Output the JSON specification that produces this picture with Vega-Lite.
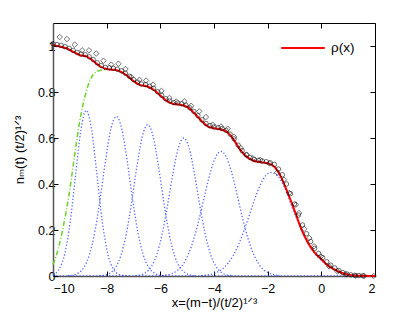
{
  "$schema": "https://vega.github.io/schema/vega-lite/v6.json",
  "width": 322,
  "height": 253,
  "autosize": {"type": "none"},
  "padding": {"left": 53, "top": 23, "right": 40, "bottom": 37},
  "background": "white",
  "config": {
    "view": {"stroke": null},
    "axis": {"domainColor": "#000", "tickColor": "#000", "labelFont": "Liberation Sans", "labelFontSize": 12.5, "labelColor": "#000", "titleFont": "Liberation Sans, DejaVu Sans", "titleFontSize": 13, "titleFontWeight": "normal", "titleColor": "#000", "grid": false, "tickSize": -5, "labelPadding": 3}
  },
  "datasets": {
    "rho": [
      {"x": -10, "y": 1.005}, {"x": -9.75, "y": 0.998}, {"x": -9.5, "y": 0.99}, {"x": -9.25, "y": 0.975}, {"x": -9.0, "y": 0.96}, {"x": -8.75, "y": 0.955}, {"x": -8.5, "y": 0.935}, {"x": -8.25, "y": 0.912}, {"x": -8.0, "y": 0.9}, {"x": -7.75, "y": 0.897}, {"x": -7.5, "y": 0.89}, {"x": -7.25, "y": 0.872}, {"x": -7.0, "y": 0.848}, {"x": -6.75, "y": 0.83}, {"x": -6.5, "y": 0.825}, {"x": -6.25, "y": 0.81}, {"x": -6.0, "y": 0.785}, {"x": -5.75, "y": 0.76}, {"x": -5.5, "y": 0.748}, {"x": -5.25, "y": 0.745}, {"x": -5.0, "y": 0.735}, {"x": -4.75, "y": 0.71}, {"x": -4.5, "y": 0.678}, {"x": -4.25, "y": 0.652}, {"x": -4.0, "y": 0.642}, {"x": -3.75, "y": 0.637}, {"x": -3.5, "y": 0.625}, {"x": -3.25, "y": 0.59}, {"x": -3.0, "y": 0.545}, {"x": -2.75, "y": 0.515}, {"x": -2.5, "y": 0.5}, {"x": -2.25, "y": 0.495}, {"x": -2.0, "y": 0.49}, {"x": -1.75, "y": 0.475}, {"x": -1.5, "y": 0.43}, {"x": -1.25, "y": 0.36}, {"x": -1.0, "y": 0.285}, {"x": -0.75, "y": 0.205}, {"x": -0.5, "y": 0.145}, {"x": -0.25, "y": 0.102}, {"x": 0, "y": 0.073}, {"x": 0.25, "y": 0.045}, {"x": 0.5, "y": 0.028}, {"x": 0.75, "y": 0.014}, {"x": 1.0, "y": 0.006}, {"x": 1.25, "y": 0.002}, {"x": 1.5, "y": 0.001}, {"x": 2.0, "y": 0}
    ],
    "circ": [
      {"x": -10.0, "y": 1.01}, {"x": -9.85, "y": 1.006}, {"x": -9.7, "y": 1.003}, {"x": -9.55, "y": 0.997}, {"x": -9.4, "y": 0.99}, {"x": -9.25, "y": 0.981}, {"x": -9.1, "y": 0.972}, {"x": -8.95, "y": 0.965}, {"x": -8.8, "y": 0.962}, {"x": -8.65, "y": 0.953}, {"x": -8.5, "y": 0.941}, {"x": -8.35, "y": 0.927}, {"x": -8.2, "y": 0.915}, {"x": -8.05, "y": 0.907}, {"x": -7.9, "y": 0.905}, {"x": -7.75, "y": 0.903}, {"x": -7.6, "y": 0.899}, {"x": -7.45, "y": 0.892}, {"x": -7.3, "y": 0.882}, {"x": -7.15, "y": 0.868}, {"x": -7.0, "y": 0.854}, {"x": -6.85, "y": 0.843}, {"x": -6.7, "y": 0.835}, {"x": -6.55, "y": 0.832}, {"x": -6.4, "y": 0.825}, {"x": -6.25, "y": 0.816}, {"x": -6.1, "y": 0.801}, {"x": -5.95, "y": 0.786}, {"x": -5.8, "y": 0.771}, {"x": -5.65, "y": 0.761}, {"x": -5.5, "y": 0.754}, {"x": -5.35, "y": 0.752}, {"x": -5.2, "y": 0.749}, {"x": -5.05, "y": 0.743}, {"x": -4.9, "y": 0.731}, {"x": -4.75, "y": 0.716}, {"x": -4.6, "y": 0.697}, {"x": -4.45, "y": 0.679}, {"x": -4.3, "y": 0.663}, {"x": -4.15, "y": 0.654}, {"x": -4.0, "y": 0.648}, {"x": -3.85, "y": 0.645}, {"x": -3.7, "y": 0.641}, {"x": -3.55, "y": 0.633}, {"x": -3.4, "y": 0.617}, {"x": -3.25, "y": 0.596}, {"x": -3.1, "y": 0.569}, {"x": -2.95, "y": 0.545}, {"x": -2.8, "y": 0.527}, {"x": -2.65, "y": 0.515}, {"x": -2.5, "y": 0.506}, {"x": -2.35, "y": 0.503}, {"x": -2.2, "y": 0.5}, {"x": -2.05, "y": 0.497}, {"x": -1.9, "y": 0.492}, {"x": -1.75, "y": 0.485}, {"x": -1.6, "y": 0.465}, {"x": -1.45, "y": 0.44}, {"x": -1.3, "y": 0.4}, {"x": -1.15, "y": 0.358}, {"x": -1.0, "y": 0.313}, {"x": -0.85, "y": 0.265}, {"x": -0.7, "y": 0.222}, {"x": -0.55, "y": 0.184}, {"x": -0.4, "y": 0.15}, {"x": -0.25, "y": 0.12}, {"x": -0.1, "y": 0.098}, {"x": 0.05, "y": 0.08}, {"x": 0.2, "y": 0.062}, {"x": 0.35, "y": 0.047}, {"x": 0.5, "y": 0.035}, {"x": 0.65, "y": 0.024}, {"x": 0.8, "y": 0.015}, {"x": 0.95, "y": 0.009}, {"x": 1.1, "y": 0.005}, {"x": 1.25, "y": 0.003}, {"x": 1.4, "y": 0.002}, {"x": 1.55, "y": 0.001}
    ],
    "diam": [
      {"x": -9.75, "y": 1.039}, {"x": -9.48, "y": 1.03}, {"x": -9.19, "y": 1.006}, {"x": -8.91, "y": 0.981}, {"x": -8.66, "y": 0.981}, {"x": -8.39, "y": 0.967}, {"x": -8.12, "y": 0.936}, {"x": -7.83, "y": 0.919}, {"x": -7.56, "y": 0.923}, {"x": -7.3, "y": 0.9}, {"x": -7.09, "y": 0.865}, {"x": -6.78, "y": 0.853}, {"x": -6.53, "y": 0.85}, {"x": -6.27, "y": 0.832}, {"x": -5.96, "y": 0.805}, {"x": -5.66, "y": 0.774}, {"x": -5.41, "y": 0.759}, {"x": -5.1, "y": 0.759}, {"x": -4.85, "y": 0.74}, {"x": -4.55, "y": 0.716}, {"x": -4.3, "y": 0.691}, {"x": -4.05, "y": 0.658}, {"x": -3.74, "y": 0.65}, {"x": -3.49, "y": 0.64}, {"x": -3.25, "y": 0.605}, {"x": -3.0, "y": 0.556}, {"x": -2.78, "y": 0.527}, {"x": -2.55, "y": 0.512}, {"x": -2.28, "y": 0.505}, {"x": -1.94, "y": 0.49}, {"x": -1.64, "y": 0.45}, {"x": -1.39, "y": 0.419}, {"x": -1.2, "y": 0.361}, {"x": -0.95, "y": 0.31}, {"x": -0.83, "y": 0.274}, {"x": -0.64, "y": 0.205}, {"x": -0.45, "y": 0.165}, {"x": -0.27, "y": 0.129}, {"x": -0.02, "y": 0.085}, {"x": 0.29, "y": 0.042}, {"x": 0.6, "y": 0.02}, {"x": 0.91, "y": 0.007}, {"x": 1.28, "y": 0.001}, {"x": 1.59, "y": 0}, {"x": 1.95, "y": 0}
    ],
    "green": [
      {"x": -10, "y": 0.05}, {"x": -9.8, "y": 0.12}, {"x": -9.6, "y": 0.225}, {"x": -9.4, "y": 0.355}, {"x": -9.2, "y": 0.52}, {"x": -9.0, "y": 0.675}, {"x": -8.9, "y": 0.735}, {"x": -8.8, "y": 0.785}, {"x": -8.7, "y": 0.826}, {"x": -8.6, "y": 0.855}, {"x": -8.5, "y": 0.876}, {"x": -8.4, "y": 0.887}, {"x": -8.3, "y": 0.892}, {"x": -8.2, "y": 0.895}, {"x": -8.0, "y": 0.898}
    ],
    "bumps": [
      {"b": 0, "x": -10, "y": 0}, {"b": 0, "x": 2, "y": 0},
      {"b": 1, "x": -10.0, "y": 0.006}, {"b": 1, "x": -9.76, "y": 0.032}, {"b": 1, "x": -9.56, "y": 0.097}, {"b": 1, "x": -9.36, "y": 0.234}, {"b": 1, "x": -9.16, "y": 0.437}, {"b": 1, "x": -8.96, "y": 0.635}, {"b": 1, "x": -8.76, "y": 0.72}, {"b": 1, "x": -8.56, "y": 0.635}, {"b": 1, "x": -8.36, "y": 0.437}, {"b": 1, "x": -8.16, "y": 0.234}, {"b": 1, "x": -7.96, "y": 0.097}, {"b": 1, "x": -7.76, "y": 0.032}, {"b": 1, "x": -7.56, "y": 0.008}, {"b": 1, "x": -7.36, "y": 0.002}, {"b": 1, "x": -7.16, "y": 0},
      {"b": 2, "x": -9.44, "y": 0.001}, {"b": 2, "x": -9.24, "y": 0.004}, {"b": 2, "x": -9.04, "y": 0.014}, {"b": 2, "x": -8.84, "y": 0.039}, {"b": 2, "x": -8.64, "y": 0.094}, {"b": 2, "x": -8.44, "y": 0.193}, {"b": 2, "x": -8.24, "y": 0.338}, {"b": 2, "x": -8.04, "y": 0.504}, {"b": 2, "x": -7.84, "y": 0.641}, {"b": 2, "x": -7.64, "y": 0.694}, {"b": 2, "x": -7.44, "y": 0.641}, {"b": 2, "x": -7.24, "y": 0.504}, {"b": 2, "x": -7.04, "y": 0.338}, {"b": 2, "x": -6.84, "y": 0.193}, {"b": 2, "x": -6.64, "y": 0.094}, {"b": 2, "x": -6.44, "y": 0.039}, {"b": 2, "x": -6.24, "y": 0.014}, {"b": 2, "x": -6.04, "y": 0.004}, {"b": 2, "x": -5.84, "y": 0.001},
      {"b": 3, "x": -8.27, "y": 0.001}, {"b": 3, "x": -8.07, "y": 0.004}, {"b": 3, "x": -7.87, "y": 0.013}, {"b": 3, "x": -7.67, "y": 0.037}, {"b": 3, "x": -7.47, "y": 0.089}, {"b": 3, "x": -7.27, "y": 0.183}, {"b": 3, "x": -7.07, "y": 0.32}, {"b": 3, "x": -6.87, "y": 0.478}, {"b": 3, "x": -6.67, "y": 0.607}, {"b": 3, "x": -6.47, "y": 0.658}, {"b": 3, "x": -6.27, "y": 0.607}, {"b": 3, "x": -6.07, "y": 0.478}, {"b": 3, "x": -5.87, "y": 0.32}, {"b": 3, "x": -5.67, "y": 0.183}, {"b": 3, "x": -5.47, "y": 0.089}, {"b": 3, "x": -5.27, "y": 0.037}, {"b": 3, "x": -5.07, "y": 0.013}, {"b": 3, "x": -4.87, "y": 0.004}, {"b": 3, "x": -4.67, "y": 0.001},
      {"b": 4, "x": -6.93, "y": 0.002}, {"b": 4, "x": -6.73, "y": 0.005}, {"b": 4, "x": -6.53, "y": 0.016}, {"b": 4, "x": -6.33, "y": 0.042}, {"b": 4, "x": -6.13, "y": 0.094}, {"b": 4, "x": -5.93, "y": 0.184}, {"b": 4, "x": -5.73, "y": 0.308}, {"b": 4, "x": -5.53, "y": 0.446}, {"b": 4, "x": -5.33, "y": 0.557}, {"b": 4, "x": -5.13, "y": 0.6}, {"b": 4, "x": -4.93, "y": 0.557}, {"b": 4, "x": -4.73, "y": 0.446}, {"b": 4, "x": -4.53, "y": 0.308}, {"b": 4, "x": -4.33, "y": 0.184}, {"b": 4, "x": -4.13, "y": 0.094}, {"b": 4, "x": -3.93, "y": 0.042}, {"b": 4, "x": -3.73, "y": 0.016}, {"b": 4, "x": -3.53, "y": 0.005}, {"b": 4, "x": -3.33, "y": 0.002},
      {"b": 5, "x": -5.94, "y": 0.002}, {"b": 5, "x": -5.74, "y": 0.005}, {"b": 5, "x": -5.54, "y": 0.012}, {"b": 5, "x": -5.34, "y": 0.026}, {"b": 5, "x": -5.14, "y": 0.053}, {"b": 5, "x": -4.94, "y": 0.099}, {"b": 5, "x": -4.74, "y": 0.166}, {"b": 5, "x": -4.54, "y": 0.254}, {"b": 5, "x": -4.34, "y": 0.354}, {"b": 5, "x": -4.14, "y": 0.449}, {"b": 5, "x": -3.94, "y": 0.517}, {"b": 5, "x": -3.74, "y": 0.542}, {"b": 5, "x": -3.54, "y": 0.517}, {"b": 5, "x": -3.34, "y": 0.449}, {"b": 5, "x": -3.14, "y": 0.354}, {"b": 5, "x": -2.94, "y": 0.254}, {"b": 5, "x": -2.74, "y": 0.166}, {"b": 5, "x": -2.54, "y": 0.099}, {"b": 5, "x": -2.34, "y": 0.053}, {"b": 5, "x": -2.14, "y": 0.026}, {"b": 5, "x": -1.94, "y": 0.012}, {"b": 5, "x": -1.74, "y": 0.005}, {"b": 5, "x": -1.54, "y": 0.002},
      {"b": 6, "x": -4.48, "y": 0.002}, {"b": 6, "x": -4.28, "y": 0.004}, {"b": 6, "x": -4.08, "y": 0.008}, {"b": 6, "x": -3.88, "y": 0.017}, {"b": 6, "x": -3.68, "y": 0.031}, {"b": 6, "x": -3.48, "y": 0.055}, {"b": 6, "x": -3.28, "y": 0.09}, {"b": 6, "x": -3.08, "y": 0.138}, {"b": 6, "x": -2.88, "y": 0.198}, {"b": 6, "x": -2.68, "y": 0.266}, {"b": 6, "x": -2.48, "y": 0.335}, {"b": 6, "x": -2.28, "y": 0.395}, {"b": 6, "x": -2.08, "y": 0.435}, {"b": 6, "x": -1.88, "y": 0.45}, {"b": 6, "x": -1.68, "y": 0.44}, {"b": 6, "x": -1.48, "y": 0.41}, {"b": 6, "x": -1.28, "y": 0.36}, {"b": 6, "x": -1.08, "y": 0.295}, {"b": 6, "x": -0.88, "y": 0.24}, {"b": 6, "x": -0.68, "y": 0.185}, {"b": 6, "x": -0.48, "y": 0.138}, {"b": 6, "x": -0.28, "y": 0.103}, {"b": 6, "x": -0.08, "y": 0.076}, {"b": 6, "x": 0.12, "y": 0.056}, {"b": 6, "x": 0.32, "y": 0.039}, {"b": 6, "x": 0.52, "y": 0.025}, {"b": 6, "x": 0.72, "y": 0.015}, {"b": 6, "x": 0.92, "y": 0.008}, {"b": 6, "x": 1.12, "y": 0.004}, {"b": 6, "x": 1.32, "y": 0.002}, {"b": 6, "x": 1.52, "y": 0}
    ]
  },
  "resolve": {"axis": {"x": "independent", "y": "independent"}},
  "layer": [
    {
      "data": {"name": "bumps"},
      "mark": {"type": "line", "color": "#3040ff", "strokeWidth": 1.3, "strokeDash": [1.3, 2], "opacity": 0.8, "interpolate": "monotone", "clip": true},
      "encoding": {
        "x": {"field": "x", "type": "quantitative", "scale": {"domain": [-10, 2], "nice": false}, "axis": {"orient": "bottom", "values": [-10, -8, -6, -4, -2, 0, 2], "format": "d", "labelPadding": 11, "title": "x=(m−t)/(t/2)¹ᐟ³", "titlePadding": 2, "domainColor": "#555", "domainWidth": 1.5}},
        "y": {"field": "y", "type": "quantitative", "scale": {"domain": [0, 1.1], "nice": false}, "axis": {"orient": "left", "values": [0, 0.2, 0.4, 0.6, 0.8, 1], "format": "~g", "title": "nₘ(t) (t/2)¹ᐟ³", "titlePadding": 11, "domainColor": "#555", "domainWidth": 1.5}},
        "detail": {"field": "b", "type": "nominal"}
      }
    },
    {
      "data": {"name": "green"},
      "mark": {"type": "line", "color": "#6fd12b", "strokeWidth": 1.5, "strokeDash": [5, 2, 1, 2], "interpolate": "monotone"},
      "encoding": {
        "x": {"field": "x", "type": "quantitative", "axis": null},
        "y": {"field": "y", "type": "quantitative", "axis": null}
      }
    },
    {
      "data": {"name": "rho"},
      "mark": {"type": "line", "strokeWidth": 2, "interpolate": "monotone"},
      "encoding": {
        "x": {"field": "x", "type": "quantitative", "axis": null},
        "y": {"field": "y", "type": "quantitative", "axis": null},
        "color": {"datum": "ρ(x)", "type": "nominal", "scale": {"range": ["#ff0000"]}, "legend": {"orient": "none", "legendX": 227, "legendY": 2, "title": null, "symbolType": "stroke", "symbolSize": 1900, "symbolStrokeWidth": 2, "labelFont": "Liberation Sans", "labelFontSize": 13.5, "labelColor": "#000", "labelOffset": 5, "padding": 0}}
      }
    },
    {
      "data": {"name": "circ"},
      "mark": {"type": "point", "shape": "circle", "filled": false, "color": "#000", "size": 20, "strokeWidth": 0.8},
      "encoding": {
        "x": {"field": "x", "type": "quantitative", "axis": null},
        "y": {"field": "y", "type": "quantitative", "axis": null}
      }
    },
    {
      "data": {"name": "diam"},
      "mark": {"type": "point", "shape": "diamond", "filled": false, "color": "#000", "size": 30, "strokeWidth": 0.8},
      "encoding": {
        "x": {"field": "x", "type": "quantitative", "axis": null},
        "y": {"field": "y", "type": "quantitative", "axis": null}
      }
    },
    {
      "data": {"name": "rho"},
      "mark": {"type": "point", "opacity": 0},
      "encoding": {
        "x": {"field": "x", "type": "quantitative", "axis": {"orient": "top", "values": [-10, -8, -6, -4, -2, 0, 2], "labels": false, "title": null}},
        "y": {"field": "y", "type": "quantitative", "axis": {"orient": "right", "values": [0, 0.2, 0.4, 0.6, 0.8, 1], "labels": false, "title": null}}
      }
    }
  ]
}
